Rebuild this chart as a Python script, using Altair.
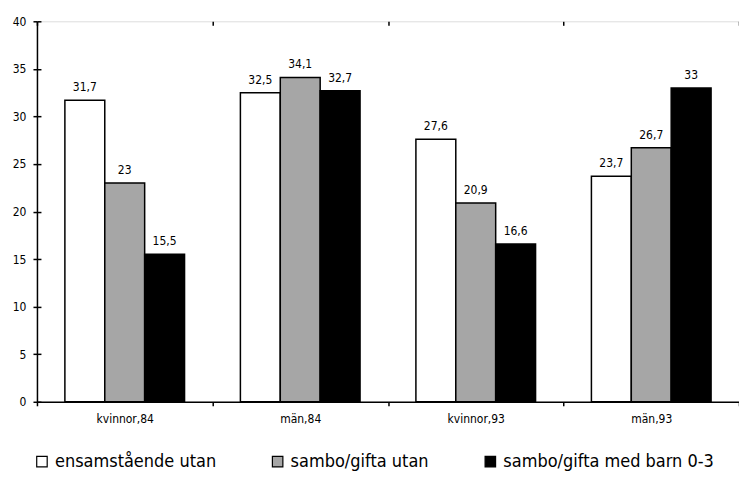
import altair as alt
import pandas as pd

categories = ["kvinnor,84", "män,84", "kvinnor,93", "män,93"]
series = ["ensamstående utan", "sambo/gifta utan", "sambo/gifta med barn 0-3"]
colors = ["#ffffff", "#a6a6a6", "#000000"]
ensam = [31.7, 32.5, 27.6, 23.7]
sambo_utan = [23, 34.1, 20.9, 26.7]
sambo_barn = [15.5, 32.7, 16.6, 33]

rows = []
for s, vals in zip(series, [ensam, sambo_utan, sambo_barn]):
    for c, v in zip(categories, vals):
        rows.append({"cat": c, "serie": s, "value": v,
                     "label": (str(v) if v != int(v) else str(int(v))).replace(".", ",")})
df = pd.DataFrame(rows)

FONT = "DejaVu Sans Condensed, Liberation Sans, sans-serif"

xscale = alt.Scale(domain=categories, paddingInner=0, paddingOuter=0)
yscale = alt.Scale(domain=[0, 40])
offscale = alt.Scale(domain=series, paddingInner=0, paddingOuter=0.7)

base = alt.Chart(df)

bars = base.mark_bar(stroke="black", strokeWidth=1.5).encode(
    x=alt.X("cat:N", scale=xscale, sort=categories, title=None,
            axis=alt.Axis(labelAngle=0, tickBand="extent", tickSize=4, labelPadding=8,
                          domainColor="black", tickColor="black", domainWidth=1.5,
                          tickWidth=1.5, labelFont=FONT, labelFontSize=12,
                          labelColor="black")),
    xOffset=alt.XOffset("serie:N", scale=offscale, sort=series),
    y=alt.Y("value:Q", scale=yscale, title=None,
            axis=alt.Axis(values=[0, 5, 10, 15, 20, 25, 30, 35, 40], tickSize=4,
                          labelPadding=7, grid=False, domainColor="black",
                          tickColor="black", domainWidth=1.5, tickWidth=1.5,
                          labelFont=FONT, labelFontSize=12, labelColor="black")),
    fill=alt.Fill("serie:N", scale=alt.Scale(domain=series, range=colors), sort=series,
                  legend=alt.Legend(title=None, orient="none", legendX=-4, legendY=432,
                                    direction="horizontal", symbolType="square",
                                    symbolSize=110, symbolStrokeColor="black",
                                    symbolStrokeWidth=1.2, labelFont=FONT,
                                    labelFontSize=18, labelColor="black",
                                    columnPadding=52, symbolOffset=0,
                                    labelLimit=400)),
)

text = base.mark_text(dy=-13, font=FONT, fontSize=12, color="black").encode(
    x=alt.X("cat:N", scale=xscale, sort=categories, title=None,
            axis=alt.Axis(labels=False, domain=False, tickBand="extent", tickSize=4,
                          offset=-4, tickColor="black", tickWidth=1.5)),
    xOffset=alt.XOffset("serie:N", scale=offscale, sort=series),
    y=alt.Y("value:Q", scale=yscale, title=None,
            axis=alt.Axis(orient="left", labels=False, domain=False, grid=False,
                          values=[0, 5, 10, 15, 20, 25, 30, 35, 40], tickSize=4,
                          offset=-4, tickColor="black", tickWidth=1.5)),
    text="label:N",
)

chart = alt.layer(bars, text).resolve_axis(x="independent", y="independent").properties(
    width=703, height=381,
    autosize=alt.AutoSizeParams(type="none"),
    padding={"left": 29, "top": 13, "right": 0, "bottom": 70},
).configure_view(stroke=None).configure(background="white")

chart.save("out.html", embed_options={"renderer": "svg", "actions": False})
